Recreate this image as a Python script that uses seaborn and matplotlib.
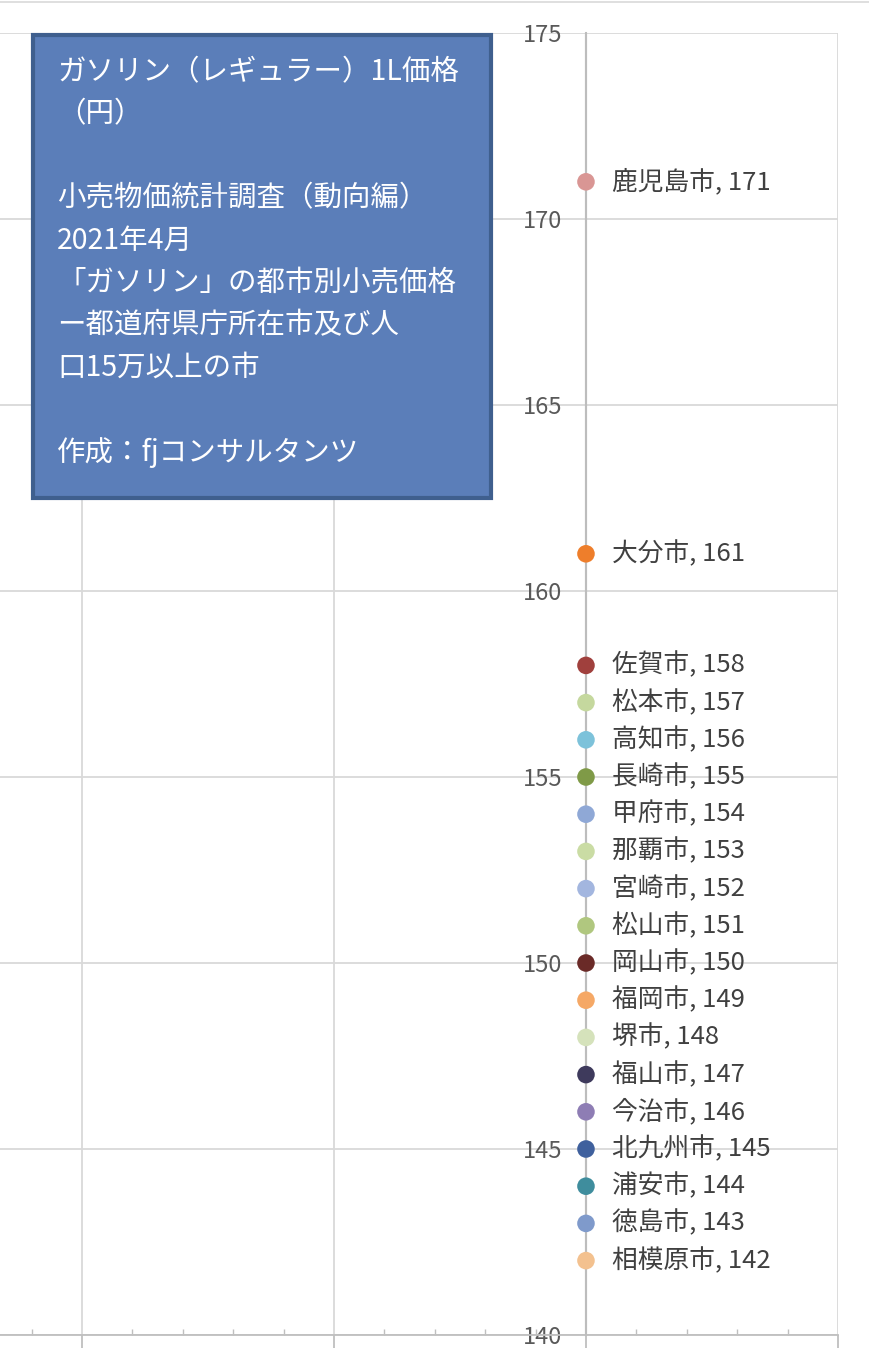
import pandas as pd
import matplotlib
matplotlib.use('Agg')
import matplotlib.pyplot as plt
from matplotlib.patches import Rectangle
from matplotlib.lines import Line2D
from matplotlib.ticker import MultipleLocator
import seaborn as sns

# データ（都市別ガソリン価格、2021年4月）
cities = ['鹿児島市', '大分市', '佐賀市', '松本市', '高知市', '長崎市', '甲府市',
          '那覇市', '宮崎市', '松山市', '岡山市', '福岡市', '堺市', '福山市',
          '今治市', '北九州市', '浦安市', '徳島市', '相模原市']
prices = [171, 161, 158, 157, 156, 155, 154, 153, 152, 151, 150, 149, 148, 147,
          146, 145, 144, 143, 142]
colors = ['#D99694', '#EE7E2B', '#A0403D', '#C5D89E', '#7DC2DA', '#7F9A47',
          '#8FA8D6', '#CADCA4', '#A3B6DF', '#B0C77F', '#6A2A27', '#F5A866',
          '#D5E2BB', '#3E3A5C', '#8E7DB4', '#3F609D', '#3F8D9D', '#7F9ACB',
          '#F3C18F']
y_ticks = [140, 145, 150, 155, 160, 165, 170, 175]

title_text = ('ガソリン（レギュラー）1L価格\n（円）\n\n'
              '小売物価統計調査（動向編）\n2021年4月\n'
              '「ガソリン」の都市別小売価格\nー都道府県庁所在市及び人\n口15万以上の市\n\n'
              '作成：fjコンサルタンツ')

df = pd.DataFrame({'都市': cities, '価格': prices, 'x': [0] * len(cities)})

sns.set_style('white')
plt.rcParams['font.family'] = ['Noto Sans CJK JP', 'DejaVu Sans']

fig = plt.figure(figsize=(8.7, 13.66), dpi=100)
ax = fig.add_axes([0, 1 - 1335 / 1366, 838 / 870, (1335 - 33) / 1366])

sns.scatterplot(data=df, x='x', y='価格', hue='都市',
                palette=dict(zip(cities, colors)), s=160, linewidth=0,
                legend=False, ax=ax, zorder=5, clip_on=False)

for c, p in zip(cities, prices):
    ax.annotate(f'{c}, {p}', (0, p), xytext=(19, 0), textcoords='offset points',
                va='center', ha='left', fontsize=18.5, color='#404040')

ax.set_xlim(-2.325, 1.0)
ax.set_ylim(140, 175)
ax.set_yticks(y_ticks)
ax.xaxis.set_major_locator(MultipleLocator(1))
ax.xaxis.set_minor_locator(MultipleLocator(0.2))
ax.grid(True, which='major', color='#D9D9D9', linewidth=1.3)
ax.set_axisbelow(True)

for s in ['top', 'left', 'right']:
    ax.spines[s].set_visible(False)
ax.spines['bottom'].set_color('#BFBFBF')
ax.spines['bottom'].set_linewidth(1.3)

# Y軸はx=0の位置に
ax.axvline(0, color='#BDBDBD', linewidth=1.5, zorder=2)
ax.spines['left'].set_visible(True)
ax.spines['left'].set_position(('data', 0))
ax.spines['left'].set_color('#BDBDBD')
ax.spines['left'].set_linewidth(1.5)

ax.tick_params(axis='y', which='major', length=0, pad=17, labelsize=17,
               labelcolor='#595959')
ax.tick_params(axis='x', which='major', direction='out', length=9,
               color='#BFBFBF', width=1.3, labelbottom=False, bottom=True)
ax.tick_params(axis='x', which='minor', direction='in', length=4,
               color='#BFBFBF', width=1.0, bottom=True)
ax.set_xlabel('')
ax.set_ylabel('')

# 上端の枠線
fig.lines.append(Line2D([0, 1], [1 - 2 / 1366] * 2, transform=fig.transFigure,
                        color='#D9D9D9', linewidth=1.2))

# 説明ボックス
fig.patches.append(Rectangle((33 / 870, 1 - 498 / 1366), (491 - 33) / 870,
                             (498 - 35) / 1366, transform=fig.transFigure,
                             facecolor='#5B7EB9', edgecolor='#3F5F8E',
                             linewidth=3, zorder=10))
fig.text(57 / 870, 1 - 57 / 1366, title_text, color='white', fontsize=20.5,
         va='top', ha='left', linespacing=1.53, zorder=11)

fig.savefig('out.png', dpi=100)
